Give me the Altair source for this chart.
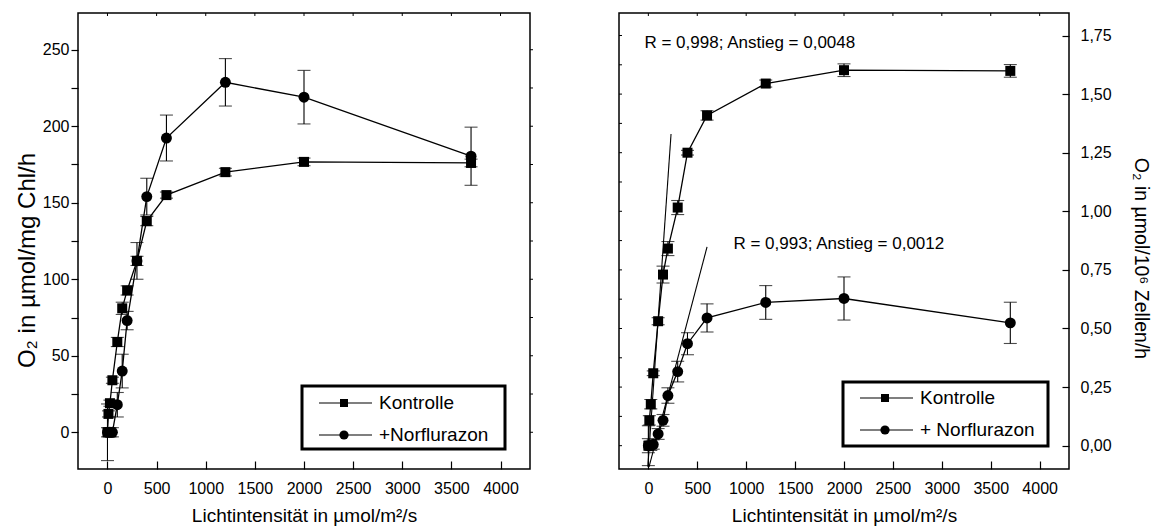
import altair as alt
import pandas as pd

# Light intensity steps (µmol/m²/s)
intensity_ctrl = [0, 10, 25, 50, 100, 150, 200, 300, 400, 600, 1200, 2000, 3700]
intensity_norf = [0, 25, 50, 100, 150, 200, 300, 400, 600, 1200, 2000, 3700]

series_names = ["Kontrolle", "+Norflurazon"]
legend_labels_left = ["Kontrolle", "+Norflurazon"]
legend_labels_right = ["Kontrolle", "+ Norflurazon"]

# O2 evolution per mg chlorophyll (left panel)
chl_ctrl = [0, 12, 19, 34, 59, 81, 92.7, 112, 138, 155, 170, 176.7, 176]
chl_ctrl_err = [3, 2, 2, 2, 3, 4, 3, 3, 3, 2, 2.5, 2.5, 2.5]
chl_norf = [0, 0, 0, 18, 40, 73, 112, 154, 192.3, 228.7, 219, 180.4]
chl_norf_err = [18.5, 3, 3, 8, 11, 6, 12, 12, 15, 15.5, 17.5, 19]

# O2 evolution per 10^6 cells (right panel)
cell_ctrl = [0, 0.108, 0.177, 0.309, 0.531, 0.730, 0.841, 1.016, 1.250, 1.409, 1.545, 1.602, 1.599]
cell_ctrl_err = [0.03, 0.02, 0.02, 0.01, 0.015, 0.036, 0.03, 0.03, 0.01, 0.02, 0.015, 0.027, 0.027]
cell_norf = [0.0, 0.0, 0.005, 0.05, 0.108, 0.214, 0.316, 0.435, 0.545, 0.611, 0.628, 0.524]
cell_norf_err = [0.085, 0.02, 0.02, 0.023, 0.025, 0.033, 0.044, 0.047, 0.06, 0.072, 0.092, 0.088]

# Linear fits of the initial slope (right panel): end points
fit_names = ["fit_ctrl", "fit_norf"]
fit_x = [[-5, 232], [7, 600]]
fit_y = [[-0.09, 1.33], [-0.09, 0.848]]
fit_labels = ["R = 0,998; Anstieg = 0,0048", "R = 0,993; Anstieg = 0,0012"]

x_ticks = list(range(0, 4001, 500))
left_y_ticks = list(range(0, 251, 25))
right_y_ticks = [i * 0.125 for i in range(15)]

FONT = "Liberation Sans"
H = 456


def frame(xs, ys, errs, name):
    df = pd.DataFrame({"I": xs, "O2": ys, "err": errs})
    df["series"] = name
    df["lo"] = df["O2"] - df["err"]
    df["hi"] = df["O2"] + df["err"]
    return df


left_df = pd.concat([frame(intensity_ctrl, chl_ctrl, chl_ctrl_err, series_names[0]),
                     frame(intensity_norf, chl_norf, chl_norf_err, series_names[1])])
right_df = pd.concat([frame(intensity_ctrl, cell_ctrl, cell_ctrl_err, series_names[0]),
                      frame(intensity_norf, cell_norf, cell_norf_err, series_names[1])])

fit_df = pd.DataFrame({
    "fit": [n for n in fit_names for _ in range(2)],
    "I": [v for xs in fit_x for v in xs],
    "O2": [v for ys in fit_y for v in ys],
})

x_title = "Lichtintensität in µmol/m²/s"
x_axis = alt.Axis(values=x_ticks, format="d", offset=-8, tickSize=8, domain=False, grid=False,
                  labelFontSize=16, labelPadding=11, labelFlush=False,
                  title=x_title, titleFontSize=19, titleFontWeight="normal", titlePadding=10)


def panel(df, ydomain, y_axis, y_title, y_ticks, mirror_side, legend_labels, box, rows, width, extra=None):
    xs = alt.Scale(domain=[-300, 4300], nice=False, zero=False)
    ys = alt.Scale(domain=ydomain, nice=False, zero=False)

    def X(field):
        return alt.X(field, scale=xs, axis=x_axis, title=x_title)

    def Y(field):
        return alt.Y(field, scale=ys, axis=y_axis, title=y_title)

    base = alt.Chart(df)
    lines = base.mark_line(color="black", strokeWidth=1.3).encode(
        x=X("I:Q"), y=Y("O2:Q"), detail="series:N")
    bars = base.mark_rule(color="black", strokeWidth=1.1).encode(
        x=X("I:Q"), y=Y("lo:Q"), y2="hi:Q")
    cap_lo = base.mark_tick(color="black", orient="horizontal", size=13, thickness=1.1).encode(
        x=X("I:Q"), y=Y("lo:Q"))
    cap_hi = base.mark_tick(color="black", orient="horizontal", size=13, thickness=1.1).encode(
        x=X("I:Q"), y=Y("hi:Q"))
    pts = base.mark_point(filled=True, color="black", opacity=1).encode(
        x=X("I:Q"), y=Y("O2:Q"),
        shape=alt.Shape("series:N", scale=alt.Scale(domain=series_names, range=["square", "circle"]), legend=None),
        size=alt.Size("series:N", scale=alt.Scale(domain=series_names, range=[100, 120]), legend=None),
    )

    # small mirror ticks on the opposite frame edges
    top_ticks = alt.Chart(pd.DataFrame({"I": x_ticks})).mark_rule(color="black", strokeWidth=1).encode(
        x=X("I:Q"), y=alt.value(0), y2=alt.value(3))
    if mirror_side == "right":
        side = dict(x=alt.value(width), x2=alt.value(width + 3))
    else:
        side = dict(x=alt.value(0), x2=alt.value(3))
    side_ticks = alt.Chart(pd.DataFrame({"O2": y_ticks})).mark_rule(color="black", strokeWidth=1).encode(
        y=Y("O2:Q"), **side)

    layers = [top_ticks, side_ticks, lines, bars, cap_lo, cap_hi, pts]
    if extra:
        layers += extra(X, Y)

    # legend box with line-and-marker samples
    one = alt.Data(values=[{"k": 0}])
    bx0, bx1, by0, by1 = box
    layers.append(alt.Chart(one).mark_rect(fill="white", stroke="black", strokeWidth=3).encode(
        x=alt.value(bx0), x2=alt.value(bx1), y=alt.value(by0), y2=alt.value(by1)))
    shapes = [("square", 64), ("circle", 85)]
    for (label, yr, (shp, sz)) in zip(legend_labels, rows, shapes):
        layers.append(alt.Chart(one).mark_rule(color="black", strokeWidth=1.2).encode(
            x=alt.value(bx0 + 17), x2=alt.value(bx0 + 70), y=alt.value(yr)))
        layers.append(alt.Chart(one).mark_point(filled=True, color="black", opacity=1, shape=shp, size=sz).encode(
            x=alt.value(bx0 + 42), y=alt.value(yr)))
        layers.append(alt.Chart(one).mark_text(align="left", baseline="middle", fontSize=19, color="black").encode(
            x=alt.value(bx0 + 77), y=alt.value(yr), text=alt.value(label)))

    return alt.layer(*layers).properties(width=width, height=H)


left_y_axis = alt.Axis(values=left_y_ticks, labelExpr="datum.value % 50 === 0 ? datum.label : ''",
                       tickSize=7, domain=False, grid=False, labelFontSize=16, labelPadding=2,
                       titleFontSize=24, titleFontWeight="normal", titlePadding=3, titleY=247)
right_y_axis = alt.Axis(orient="right", values=right_y_ticks,
                        labelExpr="(datum.value * 4) % 1 === 0 ? replace(format(datum.value, '.2f'), '.', ',') : ''",
                        offset=-7, tickSize=7, domain=False, grid=False, labelFontSize=16, labelPadding=11,
                        titleFontSize=19.5, titleFontWeight="normal", titlePadding=19, titleY=245)


def fits(X, Y):
    fit_lines = alt.Chart(fit_df).mark_line(color="black", strokeWidth=1.1).encode(
        x=X("I:Q"), y=Y("O2:Q"), detail="fit:N")
    one = alt.Data(values=[{"k": 0}])
    t1 = alt.Chart(one).mark_text(align="left", baseline="middle", fontSize=17, color="black").encode(
        x=alt.X(datum=-40), y=alt.Y(datum=1.72), text=alt.value(fit_labels[0]))
    t2 = alt.Chart(one).mark_text(align="left", baseline="middle", fontSize=17, color="black").encode(
        x=alt.X(datum=870), y=alt.Y(datum=0.86), text=alt.value(fit_labels[1]))
    return [fit_lines, t1, t2]


left = panel(left_df, [-24, 274], left_y_axis, "O₂ in µmol/mg Chl/h", left_y_ticks, "right",
             legend_labels_left, (224, 427, 373, 436), (390, 422), 452)
right = panel(right_df, [-0.0995, 1.846], right_y_axis, "O₂ in µmol/10⁶ Zellen/h", right_y_ticks, "left",
              legend_labels_right, (224, 429, 369, 433), (385, 417), 450, extra=fits)

chart = alt.hconcat(left, right, spacing=89, bounds="flush").properties(
    padding={"left": 14, "top": 11, "right": 5, "bottom": 0}
).configure(font=FONT).configure_view(
    stroke="black", strokeWidth=1.5
).configure_axis(
    tickColor="black", tickWidth=1.2, labelColor="black", titleColor="black",
    labelFont=FONT, titleFont=FONT
)

chart.save("out.html", embed_options={"renderer": "svg", "actions": False})
